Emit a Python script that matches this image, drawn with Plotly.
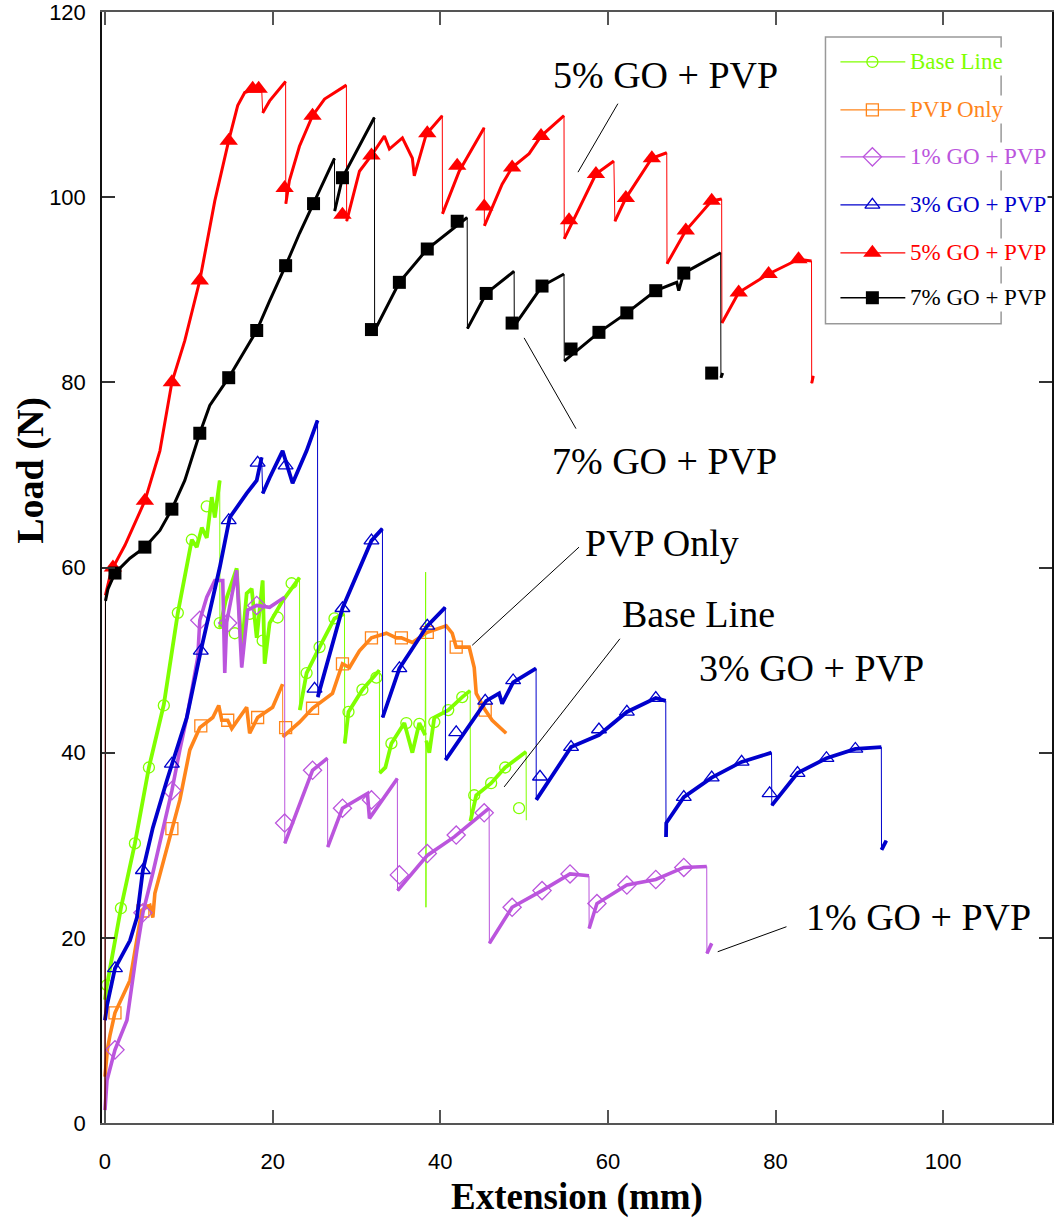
import plotly.graph_objects as go

# ---------------- data (Extension mm, Load N) ----------------
base_x = [0, 0.24, 1.9, 3.57, 5.24, 7.02, 8.69, 10.36, 10.95, 11.55, 12.14, 12.74, 13.1, 13.69, 13.71, 14.4, 15.71, 16.3, 16.9, 17.5, 18.1, 18.81, 19.05, 19.64, 21.19, 23.21, 23.24, 24.05, 25.6, 27.38, 28.57, 28.6, 29.05, 30.71, 32.74, 32.76, 33.45, 34.17, 35.71, 36.67, 37.5, 38.21, 38.25, 38.29, 38.33, 38.69, 39.29, 40.95, 42.62, 43.57, 43.6, 44.29, 46.07, 47.74, 50.24, 50.26]
base_y = [13.3, 14.9, 23.2, 30.2, 38.4, 45.2, 55.1, 63.0, 62.2, 64.3, 63.2, 67.6, 65.4, 69.4, 53.5, 56.4, 59.9, 51.0, 57.2, 57.7, 52.4, 58.6, 49.6, 54.0, 56.4, 58.9, 44.6, 48.6, 51.4, 54.5, 55.0, 41.0, 44.4, 46.8, 48.9, 37.8, 38.4, 41.0, 43.2, 40.0, 43.2, 41.9, 59.5, 23.3, 41.3, 40.0, 43.8, 44.6, 46.0, 46.7, 32.6, 35.4, 36.7, 38.4, 40.1, 32.7]
base_mx = [0.24, 1.9, 3.57, 5.24, 7.02, 8.69, 10.36, 12.14, 13.69, 15.48, 17.26, 18.81, 20.6, 22.26, 24.05, 25.6, 27.38, 29.05, 30.71, 32.38, 34.17, 35.95, 37.5, 39.29, 40.95, 42.62, 44.05, 46.07, 47.74, 49.4]
base_my = [14.9, 23.2, 30.2, 38.4, 45.1, 55.1, 63.0, 66.6, 54.0, 52.9, 55.0, 52.1, 54.6, 58.3, 48.6, 51.4, 54.5, 44.4, 46.8, 48.1, 41.0, 43.2, 43.1, 43.3, 44.6, 46.0, 35.4, 36.7, 38.4, 34.0]

pvp_x = [0, 0.3, 0.6, 1.19, 2.98, 3.81, 4.4, 5.36, 5.71, 5.95, 7.98, 8.93, 10.12, 11.31, 12.86, 13.57, 13.93, 14.64, 15.12, 16.9, 17.26, 18.21, 20.0, 21.19, 21.21, 23.21, 24.76, 27.14, 28.33, 29.17, 30.36, 31.79, 33.57, 34.76, 35.36, 36.67, 38.45, 39.05, 40.71, 41.43, 41.9, 43.45, 44.05, 44.29, 44.88, 45.36, 46.19, 47.86]
pvp_y = [5.0, 8.0, 9.5, 11.9, 15.4, 19.7, 23.0, 23.5, 22.2, 24.8, 31.8, 34.9, 40.3, 42.7, 43.8, 45.1, 43.5, 43.5, 42.6, 44.9, 42.1, 43.8, 44.9, 47.4, 41.7, 43.3, 44.8, 46.4, 49.6, 49.2, 51.0, 52.4, 52.9, 52.4, 52.4, 51.9, 53.0, 53.2, 53.7, 52.9, 51.4, 51.4, 49.2, 46.4, 45.3, 44.6, 43.5, 42.1]
pvp_mx = [1.19, 4.52, 7.98, 11.43, 14.64, 18.21, 21.55, 24.76, 28.33, 31.79, 35.36, 38.45, 41.9, 45.36]
pvp_my = [11.9, 22.9, 31.8, 42.9, 43.5, 43.8, 42.7, 44.8, 49.6, 52.4, 52.4, 53.0, 51.4, 44.6]

go1_x = [0, 0.24, 1.19, 2.62, 3.81, 4.52, 5.71, 6.9, 7.98, 8.93, 9.76, 11.07, 11.31, 12.14, 13.1, 14.05, 14.29, 14.52, 15.71, 16.31, 17.02, 18.1, 19.64, 21.43, 21.45, 24.76, 26.55, 26.57, 28.33, 31.31, 31.55, 34.88, 34.9, 38.45, 41.67, 45.24, 45.83, 45.86, 48.57, 52.14, 55.48, 57.74, 57.76, 58.69, 62.26, 65.71, 69.05, 71.79, 71.81, 72.38]
go1_y = [1.4, 4.6, 7.9, 11.1, 18.7, 22.7, 27.0, 31.9, 35.9, 40.3, 43.8, 50.3, 54.3, 56.8, 58.6, 58.6, 48.6, 54.1, 59.7, 49.2, 55.4, 55.9, 55.7, 56.8, 30.2, 38.1, 39.4, 29.8, 34.0, 35.6, 32.9, 37.2, 25.1, 28.9, 30.9, 33.5, 34.0, 19.4, 23.3, 25.1, 26.9, 26.7, 21.0, 23.7, 25.7, 26.3, 27.6, 27.7, 18.3, 19.4]
go1_mx = [1.19, 4.52, 7.98, 11.31, 14.64, 18.1, 21.43, 24.76, 28.33, 31.79, 35.12, 38.45, 41.9, 45.24, 48.57, 52.14, 55.48, 58.69, 62.26, 65.71, 69.05]
go1_my = [7.9, 22.7, 35.9, 54.3, 54.0, 55.9, 32.4, 38.1, 34.0, 34.9, 26.8, 29.1, 31.1, 33.5, 23.3, 25.1, 26.9, 23.7, 25.7, 26.3, 27.6]

go3_x = [0, 0.24, 1.19, 2.98, 3.81, 4.52, 5.71, 7.38, 9.76, 11.43, 13.69, 14.88, 16.9, 18.1, 18.69, 18.81, 19.64, 21.19, 22.38, 24.05, 25.36, 25.38, 28.33, 31.79, 33.1, 33.12, 35.12, 38.45, 40.6, 40.62, 43.1, 45.48, 47.02, 47.38, 48.69, 51.43, 51.45, 55.6, 58.93, 62.26, 65.71, 66.9, 66.93, 66.96, 69.05, 72.38, 75.95, 79.52, 79.55, 82.62, 86.07, 89.52, 92.62, 92.64, 93.21]
go3_y = [11.1, 12.7, 16.7, 19.7, 22.2, 27.3, 31.9, 37.0, 43.8, 51.0, 60.0, 65.4, 68.0, 69.4, 71.9, 68.0, 69.7, 72.6, 69.1, 72.6, 75.9, 46.0, 55.6, 62.9, 64.2, 43.8, 49.1, 53.7, 55.7, 39.2, 42.4, 45.6, 46.4, 45.3, 47.6, 49.1, 34.9, 40.6, 41.9, 44.4, 45.9, 45.6, 30.9, 32.4, 35.2, 37.3, 39.0, 40.0, 34.3, 37.8, 39.4, 40.4, 40.6, 29.5, 30.5]
go3_mx = [1.19, 4.52, 7.98, 11.43, 14.76, 18.21, 21.55, 25.0, 28.33, 31.79, 35.12, 38.45, 41.9, 45.36, 48.69, 51.9, 55.6, 58.93, 62.26, 65.71, 69.05, 72.38, 75.95, 79.29, 82.62, 86.07, 89.52]
go3_my = [16.7, 27.3, 38.8, 51.0, 65.1, 71.3, 71.0, 46.9, 55.6, 62.9, 49.1, 53.7, 42.2, 45.6, 47.8, 37.4, 40.6, 42.5, 44.4, 45.9, 35.2, 37.3, 39.0, 35.6, 37.8, 39.4, 40.4]

go5_x = [0, 0.05, 0.6, 0.95, 2.38, 4.76, 6.55, 7.98, 9.52, 11.31, 13.1, 14.76, 15.83, 16.67, 17.98, 18.69, 18.81, 19.64, 21.55, 21.57, 22.0, 23.2, 24.76, 26.19, 28.8, 28.83, 30.36, 31.79, 33.33, 33.93, 35.48, 36.67, 36.9, 38.33, 40.24, 40.26, 42.26, 45.24, 45.26, 47.38, 48.57, 50.6, 52.02, 54.76, 54.79, 58.57, 60.71, 60.83, 62.14, 65.24, 67.02, 67.05, 69.29, 72.38, 73.57, 73.6, 75.6, 79.17, 82.74, 84.29, 84.31, 84.5]
go5_y = [0, 57.0, 59.1, 60.0, 62.4, 67.2, 72.6, 80.0, 84.5, 91.0, 99.6, 106.1, 109.9, 111.3, 111.7, 111.8, 109.1, 110.4, 112.5, 99.3, 101.8, 105.5, 108.8, 110.6, 112.1, 97.4, 102.8, 104.5, 106.6, 105.2, 106.4, 104.2, 102.3, 106.8, 108.8, 98.2, 102.8, 107.5, 96.9, 101.4, 103.2, 104.7, 106.6, 108.8, 95.5, 102.5, 103.9, 97.4, 99.9, 104.2, 104.8, 92.8, 96.4, 99.6, 99.8, 86.4, 89.7, 91.7, 93.3, 93.1, 79.9, 80.7]
go5_mx = [0.95, 4.76, 7.98, 11.31, 14.76, 17.62, 18.33, 21.43, 24.76, 28.33, 31.79, 38.45, 42.02, 45.24, 48.57, 52.02, 55.36, 58.57, 62.14, 65.24, 69.29, 72.38, 75.6, 79.17, 82.74]
go5_my = [60.0, 67.2, 80.0, 91.0, 106.1, 111.7, 111.7, 101.0, 108.8, 98.1, 104.5, 106.9, 103.4, 99.0, 103.2, 106.6, 97.5, 102.5, 99.9, 104.2, 96.4, 99.6, 89.7, 91.7, 93.3]

go7_x = [0, 0.06, 0.36, 1.19, 2.98, 4.76, 6.55, 7.98, 9.52, 11.31, 12.5, 14.76, 16.67, 18.1, 19.64, 21.55, 23.21, 24.88, 27.38, 27.4, 28.33, 32.14, 32.17, 35.12, 38.45, 43.21, 43.24, 45.48, 48.81, 48.83, 52.14, 54.76, 54.79, 58.93, 62.26, 65.71, 68.21, 68.45, 69.05, 73.45, 73.48, 73.69]
go7_y = [0, 56.4, 57.7, 59.4, 61.0, 62.2, 64.0, 66.3, 69.4, 74.5, 77.5, 80.5, 83.4, 85.6, 88.8, 92.6, 96.1, 99.3, 104.2, 98.5, 102.1, 108.6, 85.6, 90.8, 94.4, 97.8, 85.8, 89.6, 92.0, 86.1, 90.4, 91.7, 82.3, 85.4, 87.5, 89.9, 90.8, 89.9, 91.8, 94.0, 80.5, 81.0]
go7_mx = [1.19, 4.76, 7.98, 11.31, 14.76, 18.1, 21.55, 24.88, 28.33, 31.79, 35.12, 38.45, 42.02, 45.48, 48.57, 52.14, 55.6, 58.93, 62.26, 65.71, 69.05, 72.38]
go7_my = [59.4, 62.2, 66.3, 74.5, 80.5, 85.6, 92.6, 99.3, 102.1, 85.7, 90.8, 94.4, 97.4, 89.6, 86.4, 90.4, 83.6, 85.4, 87.5, 89.9, 91.8, 81.0]

names = ["Base Line", "PVP Only", "1% GO + PVP", "3% GO + PVP", "5% GO + PVP", "7% GO + PVP"]
colors = ["#80ff00", "#ff851b", "#bb55dd", "#0000cc", "#ff0000", "#000000"]
symbols = ["circle-open", "square-open", "diamond-open", "triangle-up-open", "triangle-up", "square"]
msizes = [11, 12, 14, 13, 16, 13]
lwidths = [3.8, 3.6, 3.6, 3.8, 3.0, 3.0]

curve_x = [base_x, pvp_x, go1_x, go3_x, go5_x, go7_x]
curve_y = [base_y, pvp_y, go1_y, go3_y, go5_y, go7_y]
mark_x = [base_mx, pvp_mx, go1_mx, go3_mx, go5_mx, go7_mx]
mark_y = [base_my, pvp_my, go1_my, go3_my, go5_my, go7_my]

# callout labels: text, label position, leader line (from curve to label)
callouts = [
    ("5% GO + PVP", 66.9, 113.2, (56.43, 102.7), (61.19, 110.1)),
    ("7% GO + PVP", 66.7, 71.5, (50.0, 84.8), (56.19, 75.0)),
    ("PVP Only", 66.5, 62.6, (43.81, 51.6), (56.55, 62.2)),
    ("Base Line", 70.8, 55.0, (47.62, 36.3), (61.43, 52.3)),
    ("3% GO + PVP", 84.3, 49.1, None, None),
    ("1% GO + PVP", 97.0, 22.3, (73.1, 18.5), (81.3, 21.2)),
]


def split_drops(xs, ys, dx_max=0.15, dy_min=2.5):
    ox, oy = [xs[0]], [ys[0]]
    for i in range(1, len(xs)):
        if xs[i] - xs[i - 1] < dx_max and abs(ys[i] - ys[i - 1]) > dy_min:
            ox.append(None)
            oy.append(None)
        ox.append(xs[i])
        oy.append(ys[i])
    return ox, oy


fig = go.Figure()

for i in range(6):
    c = colors[i]
    fig.add_trace(go.Scatter(x=curve_x[i], y=curve_y[i], mode="lines",
                             line=dict(color=c, width=1), showlegend=False,
                             hoverinfo="skip"))
    tx, ty = split_drops(curve_x[i], curve_y[i])
    fig.add_trace(go.Scatter(x=tx, y=ty, mode="lines", name=names[i],
                             line=dict(color=c, width=lwidths[i]),
                             showlegend=False))
    filled = not symbols[i].endswith("open")
    fig.add_trace(go.Scatter(x=mark_x[i], y=mark_y[i], mode="markers",
                             marker=dict(symbol=symbols[i], size=msizes[i], color=c,
                                         line=dict(color=c, width=0 if filled else 1.3)),
                             showlegend=False, hoverinfo="skip"))

# ---------------- manual legend (paper coordinates) ----------------
L, B, W, H = 102, 1123, 952, 1112  # plot area in pixels


def px(xp):
    return (xp - L) / W


def py(yp):
    return (B - yp) / H


rows = [61, 109, 156, 204, 252, 297]
shapes = [dict(type="rect", xref="paper", yref="paper", x0=px(827), x1=px(1003),
               y0=py(323), y1=py(36), line=dict(color="#999999", width=1.5),
               fillcolor="rgba(0,0,0,0)", layer="above")]
annotations = []
for i, r in enumerate(rows):
    shapes.append(dict(type="line", xref="paper", yref="paper", x0=px(842), x1=px(907),
                       y0=py(r), y1=py(r), line=dict(color=colors[i], width=1.3), layer="above"))
    annotations.append(dict(x=px(910), y=py(r), xref="paper", yref="paper", text=names[i],
                            xanchor="left", yanchor="middle", showarrow=False, bgcolor="white",
                            borderpad=1,
                            font=dict(family="Liberation Serif", size=23, color=colors[i])))
    filled = not symbols[i].endswith("open")
    fig.add_trace(go.Scatter(x=[px(874)], y=[py(r)], xaxis="x2", yaxis="y2", mode="markers",
                             marker=dict(symbol=symbols[i], size=msizes[i], color=colors[i],
                                         line=dict(color=colors[i], width=0 if filled else 1.3)),
                             showlegend=False, hoverinfo="skip", cliponaxis=False))

# callouts
for text, lx, ly, p0, p1 in callouts:
    annotations.append(dict(x=lx, y=ly, xref="x", yref="y", text=text, showarrow=False,
                            xanchor="center", yanchor="middle",
                            font=dict(family="Liberation Serif", size=38, color="black")))
    if p0 is not None:
        shapes.append(dict(type="line", xref="x", yref="y", x0=p0[0], y0=p0[1], x1=p1[0], y1=p1[1],
                           line=dict(color="black", width=1), layer="above"))

annotations.append(dict(x=px(30), y=py(470), xref="paper", yref="paper", text="Load (N)",
                        textangle=-90, showarrow=False, xanchor="center", yanchor="middle",
                        font=dict(family="Liberation Serif", size=38, color="black", weight="bold")))

tickfont = dict(family="Liberation Sans", size=22, color="black")
fig.update_layout(
    width=1054, height=1222,
    margin=dict(l=102, r=0, t=11, b=99),
    paper_bgcolor="white", plot_bgcolor="white",
    showlegend=False,
    xaxis=dict(range=[-0.357, 112.98], tickvals=[0, 20, 40, 60, 80, 100], ticks="inside",
               ticklen=13, tickcolor="#555555", tickwidth=1.5, showline=True, linecolor="#555555",
               linewidth=2, mirror="ticks", showgrid=False, zeroline=False, tickfont=tickfont,
               ticklabelstandoff=18, ticklabeloverflow="allow",
               title=dict(text="Extension (mm)", standoff=10,
                          font=dict(family="Liberation Serif", size=37, color="black", weight="bold"))),
    yaxis=dict(range=[0, 120], tickvals=[0, 20, 40, 60, 80, 100, 120], ticks="inside",
               ticklen=13, tickcolor="#333333", tickwidth=1.5, showline=True, linecolor="#111111",
               linewidth=1.5, mirror="ticks", showgrid=False, zeroline=False, tickfont=tickfont,
               ticklabelstandoff=10, ticklabeloverflow="allow"),
    xaxis2=dict(overlaying="x", range=[0, 1], visible=False, fixedrange=True),
    yaxis2=dict(overlaying="y", range=[0, 1], visible=False, fixedrange=True),
    shapes=shapes,
    annotations=annotations,
)

fig.write_html("out.html")
